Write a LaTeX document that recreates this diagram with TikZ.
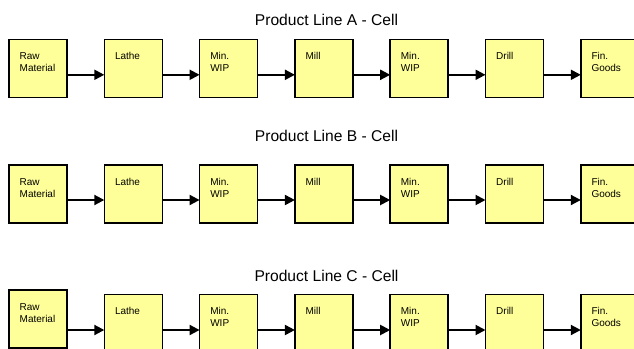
\documentclass[tikz,border=0pt]{standalone}
\usepackage{fontspec}
\setmainfont{Liberation Sans}
\usepackage{xcolor}
\definecolor{cFill}{HTML}{FFFF99}
\definecolor{cLine}{HTML}{000000}
\usetikzlibrary{positioning,arrows.meta}
\tikzset{
  node-box/.style={draw=cLine,line width=1.6pt,fill=cFill,outer sep=0pt,
    minimum width=58pt,minimum height=58pt,inner sep=0pt},
  % text sits in the upper left corner of each box
  box-text/.style={anchor=north west,align=left,inner sep=0pt,
    xshift=10.5pt,yshift=-13pt,font=\fontsize{10}{12}\selectfont},
  node-title/.style={inner sep=0pt,font=\fontsize{15.6}{18}\selectfont},
  arrow/.style={-{Triangle[length=10pt,width=10pt]},line width=2pt,draw=cLine},
}

\begin{document}
\begin{tikzpicture}[x=1pt,y=-1pt,node distance=37.3pt]
  \useasboundingbox (0,0) rectangle (634,348);
  \clip (0,0) rectangle (634,348);

  % Product line A
  \node[node-title] (titA) at (326.5,20.3) {Product Line A - Cell};
  \node[node-box,label={[box-text]north west:Raw\\Material}] (rawA) at (38,68.3) {};
  \node[node-box,right=of rawA,label={[box-text]north west:Lathe}] (latheA) {};
  \node[node-box,right=of latheA,label={[box-text]north west:Min.\\WIP}] (wip1A) {};
  \node[node-box,right=of wip1A,label={[box-text]north west:Mill}] (millA) {};
  \node[node-box,right=of millA,label={[box-text]north west:Min.\\WIP}] (wip2A) {};
  \node[node-box,right=of wip2A,label={[box-text]north west:Drill}] (drillA) {};
  \node[node-box,right=of drillA,label={[box-text]north west:Fin.\\Goods}] (finA) {};
  \draw[arrow] ([yshift=-6.5pt]latheA.west -| rawA.east) -- ([yshift=-6.5pt]latheA.west);
  \draw[arrow] ([yshift=-6.5pt]wip1A.west -| latheA.east) -- ([yshift=-6.5pt]wip1A.west);
  \draw[arrow] ([yshift=-6.5pt]millA.west -| wip1A.east) -- ([yshift=-6.5pt]millA.west);
  \draw[arrow] ([yshift=-6.5pt]wip2A.west -| millA.east) -- ([yshift=-6.5pt]wip2A.west);
  \draw[arrow] ([yshift=-6.5pt]drillA.west -| wip2A.east) -- ([yshift=-6.5pt]drillA.west);
  \draw[arrow] ([yshift=-6.5pt]finA.west -| drillA.east) -- ([yshift=-6.5pt]finA.west);

  % Product line B
  \node[node-title] (titB) at (326.5,135.7) {Product Line B - Cell};
  \node[node-box,label={[box-text]north west:Raw\\Material}] (rawB) at (38,194) {};
  \node[node-box,right=of rawB,label={[box-text]north west:Lathe}] (latheB) {};
  \node[node-box,right=of latheB,label={[box-text]north west:Min.\\WIP}] (wip1B) {};
  \node[node-box,right=of wip1B,label={[box-text]north west:Mill}] (millB) {};
  \node[node-box,right=of millB,label={[box-text]north west:Min.\\WIP}] (wip2B) {};
  \node[node-box,right=of wip2B,label={[box-text]north west:Drill}] (drillB) {};
  \node[node-box,right=of drillB,label={[box-text]north west:Fin.\\Goods}] (finB) {};
  \draw[arrow] ([yshift=-6pt]latheB.west -| rawB.east) -- ([yshift=-6pt]latheB.west);
  \draw[arrow] ([yshift=-6pt]wip1B.west -| latheB.east) -- ([yshift=-6pt]wip1B.west);
  \draw[arrow] ([yshift=-6pt]millB.west -| wip1B.east) -- ([yshift=-6pt]millB.west);
  \draw[arrow] ([yshift=-6pt]wip2B.west -| millB.east) -- ([yshift=-6pt]wip2B.west);
  \draw[arrow] ([yshift=-6pt]drillB.west -| wip2B.east) -- ([yshift=-6pt]drillB.west);
  \draw[arrow] ([yshift=-6pt]finB.west -| drillB.east) -- ([yshift=-6pt]finB.west);

  % Product line C (raw material box sits a little higher)
  \node[node-title] (titC) at (326.5,275.7) {Product Line C - Cell};
  \node[node-box,label={[box-text]north west:Raw\\Material}] (rawC) at (38,319) {};
  \node[node-box,right=of rawC,yshift=-4.3pt,label={[box-text]north west:Lathe}] (latheC) {};
  \node[node-box,right=of latheC,label={[box-text]north west:Min.\\WIP}] (wip1C) {};
  \node[node-box,right=of wip1C,label={[box-text]north west:Mill}] (millC) {};
  \node[node-box,right=of millC,label={[box-text]north west:Min.\\WIP}] (wip2C) {};
  \node[node-box,right=of wip2C,label={[box-text]north west:Drill}] (drillC) {};
  \node[node-box,right=of drillC,label={[box-text]north west:Fin.\\Goods}] (finC) {};
  \draw[arrow] ([yshift=-6.7pt]latheC.west -| rawC.east) -- ([yshift=-6.7pt]latheC.west);
  \draw[arrow] ([yshift=-6.7pt]wip1C.west -| latheC.east) -- ([yshift=-6.7pt]wip1C.west);
  \draw[arrow] ([yshift=-6.7pt]millC.west -| wip1C.east) -- ([yshift=-6.7pt]millC.west);
  \draw[arrow] ([yshift=-6.7pt]wip2C.west -| millC.east) -- ([yshift=-6.7pt]wip2C.west);
  \draw[arrow] ([yshift=-6.7pt]drillC.west -| wip2C.east) -- ([yshift=-6.7pt]drillC.west);
  \draw[arrow] ([yshift=-6.7pt]finC.west -| drillC.east) -- ([yshift=-6.7pt]finC.west);
\end{tikzpicture}
\end{document}
